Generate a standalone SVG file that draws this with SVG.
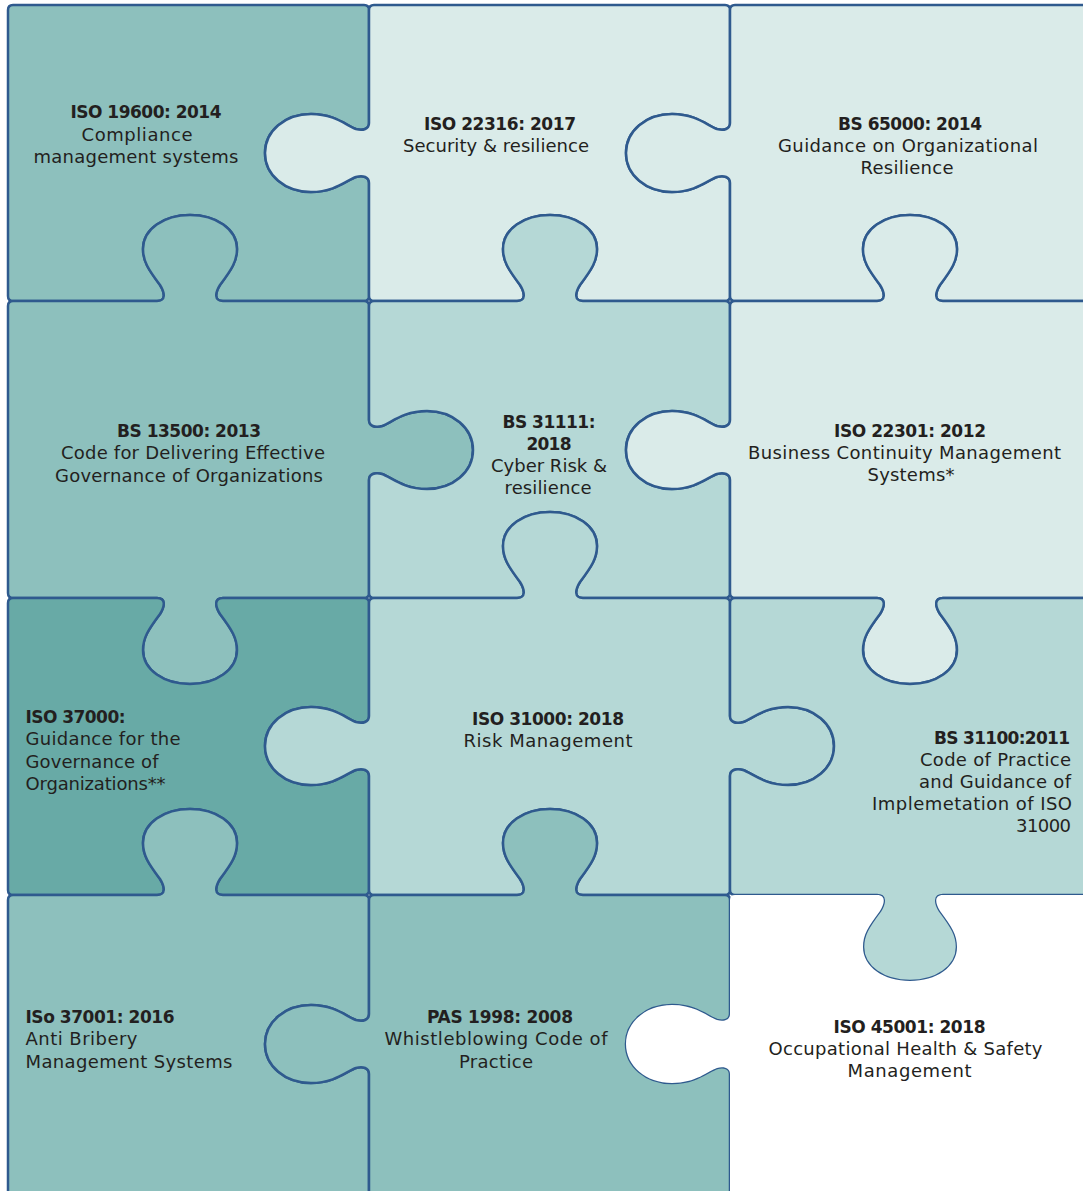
<svg xmlns="http://www.w3.org/2000/svg" width="1083" height="1191" viewBox="0 0 1083 1191">
<style>
.pc{stroke:#2f5a8e;stroke-width:2.5;stroke-linejoin:round}
.med{fill:#8dc0bd}.lt{fill:#daebe9}.ml{fill:#b5d8d6}.dk{fill:#68aaa6}.wh{fill:#ffffff}
text{font-family:"DejaVu Sans","Liberation Sans",sans-serif;font-size:18px;fill:#231f20}
.b{font-weight:bold;font-size:17px}
.c{text-anchor:middle}.r{text-anchor:end}
</style>
<rect width="1083" height="1191" fill="#ffffff"/>
<g id="pieces">
<g id="p11">
<path class="pc med" d="M 13,5 L 364,5 Q 369,5 369,10 L 369,123 C 369,129 363,131 356,129 C 347,126 335,114 311,114 C 285,114 265,131 265,153 C 265,175 285,192 311,192 C 335,192 347,180 356,177 C 363,175 369,177 369,183 L 369,296 Q 369,301 364,301 L 223,301 C 214,301 215,293 220,285 C 232,269 237,261 237,249 C 237,229 216,215 190,215 C 164,215 143,229 143,249 C 143,261 148,269 160,285 C 165,293 166,301 157,301 L 13,301 Q 8,301 8,296 L 8,10 Q 8,5 13,5 Z"/>
<text class="b c" x="146" y="118" textLength="151">ISO 19600: 2014</text>
<text class="c" x="137" y="141" textLength="111">Compliance</text>
<text class="c" x="136" y="163" textLength="205">management systems</text>
</g>
<g id="p12">
<path class="pc lt" d="M 374,5 L 725,5 Q 730,5 730,10 L 730,123 C 730,129 724,131 717,129 C 708,126 696,114 672,114 C 646,114 626,131 626,153 C 626,175 646,192 672,192 C 696,192 708,180 717,177 C 724,175 730,177 730,183 L 730,296 Q 730,301 725,301 L 583,301 C 574,301 575,293 580,285 C 592,269 597,261 597,249 C 597,229 576,215 550,215 C 524,215 503,229 503,249 C 503,261 508,269 520,285 C 525,293 526,301 517,301 L 374,301 Q 369,301 369,296 L 369,183 C 369,177 363,175 356,177 C 347,180 335,192 311,192 C 285,192 265,175 265,153 C 265,131 285,114 311,114 C 335,114 347,126 356,129 C 363,131 369,129 369,123 L 369,10 Q 369,5 374,5 Z"/>
<text class="b c" x="500" y="130" textLength="152">ISO 22316: 2017</text>
<text class="c" x="496" y="152" textLength="186">Security &amp; resilience</text>
</g>
<g id="p13">
<path class="pc lt" d="M 735,5 L 1100,5 L 1100,301 L 943,301 C 934,301 935,293 940,285 C 952,269 957,261 957,249 C 957,229 936,215 910,215 C 884,215 863,229 863,249 C 863,261 868,269 880,285 C 885,293 886,301 877,301 L 735,301 Q 730,301 730,296 L 730,183 C 730,177 724,175 717,177 C 708,180 696,192 672,192 C 646,192 626,175 626,153 C 626,131 646,114 672,114 C 696,114 708,126 717,129 C 724,131 730,129 730,123 L 730,10 Q 730,5 735,5 Z"/>
<text class="b c" x="910" y="130" textLength="144">BS 65000: 2014</text>
<text class="c" x="908" y="152" textLength="260">Guidance on Organizational</text>
<text class="c" x="907" y="174" textLength="93">Resilience</text>
</g>
<g id="p21">
<path class="pc med" d="M 13,301 L 157,301 C 166,301 165,293 160,285 C 148,269 143,261 143,249 C 143,229 164,215 190,215 C 216,215 237,229 237,249 C 237,261 232,269 220,285 C 215,293 214,301 223,301 L 364,301 Q 369,301 369,306 L 369,420 C 369,426 375,428 382,426 C 391,423 403,411 427,411 C 453,411 473,428 473,450 C 473,472 453,489 427,489 C 403,489 391,477 382,474 C 375,472 369,474 369,480 L 369,593 Q 369,598 364,598 L 223,598 C 214,598 215,606 220,614 C 232,630 237,638 237,650 C 237,670 216,684 190,684 C 164,684 143,670 143,650 C 143,638 148,630 160,614 C 165,606 166,598 157,598 L 13,598 Q 8,598 8,593 L 8,306 Q 8,301 13,301 Z"/>
<text class="b c" x="189" y="437" textLength="144">BS 13500: 2013</text>
<text class="c" x="193" y="459" textLength="264">Code for Delivering Effective</text>
<text class="c" x="189" y="482" textLength="268">Governance of Organizations</text>
</g>
<g id="p22">
<path class="pc ml" d="M 374,301 L 517,301 C 526,301 525,293 520,285 C 508,269 503,261 503,249 C 503,229 524,215 550,215 C 576,215 597,229 597,249 C 597,261 592,269 580,285 C 575,293 574,301 583,301 L 725,301 Q 730,301 730,306 L 730,420 C 730,426 724,428 717,426 C 708,423 696,411 672,411 C 646,411 626,428 626,450 C 626,472 646,489 672,489 C 696,489 708,477 717,474 C 724,472 730,474 730,480 L 730,593 Q 730,598 725,598 L 583,598 C 574,598 575,590 580,582 C 592,566 597,558 597,546 C 597,526 576,512 550,512 C 524,512 503,526 503,546 C 503,558 508,566 520,582 C 525,590 526,598 517,598 L 374,598 Q 369,598 369,593 L 369,480 C 369,474 375,472 382,474 C 391,477 403,489 427,489 C 453,489 473,472 473,450 C 473,428 453,411 427,411 C 403,411 391,423 382,426 C 375,428 369,426 369,420 L 369,306 Q 369,301 374,301 Z"/>
<text class="b c" x="549" y="428" textLength="93">BS 31111:</text>
<text class="b c" x="549" y="450" textLength="45">2018</text>
<text class="c" x="549" y="472" textLength="116">Cyber Risk &amp;</text>
<text class="c" x="548" y="494" textLength="87">resilience</text>
</g>
<g id="p23">
<path class="pc lt" d="M 735,301 L 877,301 C 886,301 885,293 880,285 C 868,269 863,261 863,249 C 863,229 884,215 910,215 C 936,215 957,229 957,249 C 957,261 952,269 940,285 C 935,293 934,301 943,301 L 1100,301 L 1100,598 L 943,598 C 934,598 935,606 940,614 C 952,630 957,638 957,650 C 957,670 936,684 910,684 C 884,684 863,670 863,650 C 863,638 868,630 880,614 C 885,606 886,598 877,598 L 735,598 Q 730,598 730,593 L 730,480 C 730,474 724,472 717,474 C 708,477 696,489 672,489 C 646,489 626,472 626,450 C 626,428 646,411 672,411 C 696,411 708,423 717,426 C 724,428 730,426 730,420 L 730,306 Q 730,301 735,301 Z"/>
<text class="b c" x="910" y="437" textLength="152">ISO 22301: 2012</text>
<text class="c" x="904.5" y="459" textLength="313">Business Continuity Management</text>
<text class="c" x="911" y="481" textLength="87">Systems*</text>
</g>
<g id="p31">
<path class="pc dk" d="M 13,598 L 157,598 C 166,598 165,606 160,614 C 148,630 143,638 143,650 C 143,670 164,684 190,684 C 216,684 237,670 237,650 C 237,638 232,630 220,614 C 215,606 214,598 223,598 L 364,598 Q 369,598 369,603 L 369,716 C 369,722 363,724 356,722 C 347,719 335,707 311,707 C 285,707 265,724 265,746 C 265,768 285,785 311,785 C 335,785 347,773 356,770 C 363,768 369,770 369,776 L 369,890 Q 369,895 364,895 L 223,895 C 214,895 215,887 220,879 C 232,863 237,855 237,843 C 237,823 216,809 190,809 C 164,809 143,823 143,843 C 143,855 148,863 160,879 C 165,887 166,895 157,895 L 13,895 Q 8,895 8,890 L 8,603 Q 8,598 13,598 Z"/>
<text class="b" x="25.5" y="723" textLength="100">ISO 37000:</text>
<text x="25.5" y="745" textLength="155">Guidance for the</text>
<text x="25.5" y="768" textLength="133">Governance of</text>
<text x="25.5" y="790" textLength="140">Organizations**</text>
</g>
<g id="p32">
<path class="pc ml" d="M 374,598 L 517,598 C 526,598 525,590 520,582 C 508,566 503,558 503,546 C 503,526 524,512 550,512 C 576,512 597,526 597,546 C 597,558 592,566 580,582 C 575,590 574,598 583,598 L 725,598 Q 730,598 730,603 L 730,716 C 730,722 736,724 743,722 C 752,719 764,707 788,707 C 814,707 834,724 834,746 C 834,768 814,785 788,785 C 764,785 752,773 743,770 C 736,768 730,770 730,776 L 730,890 Q 730,895 725,895 L 583,895 C 574,895 575,887 580,879 C 592,863 597,855 597,843 C 597,823 576,809 550,809 C 524,809 503,823 503,843 C 503,855 508,863 520,879 C 525,887 526,895 517,895 L 374,895 Q 369,895 369,890 L 369,776 C 369,770 363,768 356,770 C 347,773 335,785 311,785 C 285,785 265,768 265,746 C 265,724 285,707 311,707 C 335,707 347,719 356,722 C 363,724 369,722 369,716 L 369,603 Q 369,598 374,598 Z"/>
<text class="b c" x="548" y="725" textLength="152">ISO 31000: 2018</text>
<text class="c" x="548" y="747" textLength="169">Risk Management</text>
</g>
<g id="p33">
<path class="pc ml" d="M 735,598 L 877,598 C 886,598 885,606 880,614 C 868,630 863,638 863,650 C 863,670 884,684 910,684 C 936,684 957,670 957,650 C 957,638 952,630 940,614 C 935,606 934,598 943,598 L 1100,598 L 1100,895 L 943,895 C 934,895 935,903 940,911 C 952,927 957,935 957,947 C 957,967 936,981 910,981 C 884,981 863,967 863,947 C 863,935 868,927 880,911 C 885,903 886,895 877,895 L 735,895 Q 730,895 730,890 L 730,776 C 730,770 736,768 743,770 C 752,773 764,785 788,785 C 814,785 834,768 834,746 C 834,724 814,707 788,707 C 764,707 752,719 743,722 C 736,724 730,722 730,716 L 730,603 Q 730,598 735,598 Z"/>
<text class="b r" x="1070" y="744" textLength="136">BS 31100:2011</text>
<text class="r" x="1071" y="766" textLength="151">Code of Practice</text>
<text class="r" x="1071" y="788" textLength="152">and Guidance of</text>
<text class="r" x="1072" y="810" textLength="200">Implemetation of ISO</text>
<text class="r" x="1071" y="832" textLength="55">31000</text>
</g>
<g id="p41">
<path class="pc med" d="M 13,895 L 157,895 C 166,895 165,887 160,879 C 148,863 143,855 143,843 C 143,823 164,809 190,809 C 216,809 237,823 237,843 C 237,855 232,863 220,879 C 215,887 214,895 223,895 L 364,895 Q 369,895 369,900 L 369,1014 C 369,1020 363,1022 356,1020 C 347,1017 335,1005 311,1005 C 285,1005 265,1022 265,1044 C 265,1066 285,1083 311,1083 C 335,1083 347,1071 356,1068 C 363,1066 369,1068 369,1074 L 369,1200 L 8,1200 L 8,900 Q 8,895 13,895 Z"/>
<text class="b" x="25.5" y="1023" textLength="149">ISo 37001: 2016</text>
<text x="25.5" y="1045" textLength="112">Anti Bribery</text>
<text x="25.5" y="1068" textLength="207">Management Systems</text>
</g>
<g id="p42">
<path class="pc med" d="M 374,895 L 517,895 C 526,895 525,887 520,879 C 508,863 503,855 503,843 C 503,823 524,809 550,809 C 576,809 597,823 597,843 C 597,855 592,863 580,879 C 575,887 574,895 583,895 L 725,895 Q 730,895 730,900 L 730,1014 C 730,1020 724,1022 717,1020 C 708,1017 696,1005 672,1005 C 646,1005 626,1022 626,1044 C 626,1066 646,1083 672,1083 C 696,1083 708,1071 717,1068 C 724,1066 730,1068 730,1074 L 730,1200 L 369,1200 L 369,1074 C 369,1068 363,1066 356,1068 C 347,1071 335,1083 311,1083 C 285,1083 265,1066 265,1044 C 265,1022 285,1005 311,1005 C 335,1005 347,1017 356,1020 C 363,1022 369,1020 369,1014 L 369,900 Q 369,895 374,895 Z"/>
<text class="b c" x="500" y="1023" textLength="146">PAS 1998: 2008</text>
<text class="c" x="496" y="1045" textLength="223">Whistleblowing Code of</text>
<text class="c" x="496" y="1068" textLength="74">Practice</text>
</g>
<g id="p43">
<path class="wh" d="M 735,895 L 877,895 C 886,895 885,903 880,911 C 868,927 863,935 863,947 C 863,967 884,981 910,981 C 936,981 957,967 957,947 C 957,935 952,927 940,911 C 935,903 934,895 943,895 L 1100,895 L 1100,1200 L 730,1200 L 730,1074 C 730,1068 724,1066 717,1068 C 708,1071 696,1083 672,1083 C 646,1083 626,1066 626,1044 C 626,1022 646,1005 672,1005 C 696,1005 708,1017 717,1020 C 724,1022 730,1020 730,1014 L 730,900 Q 730,895 735,895 Z"/>
<text class="b c" x="909.5" y="1033" textLength="152">ISO 45001: 2018</text>
<text class="c" x="905.5" y="1055" textLength="274">Occupational Health &amp; Safety</text>
<text class="c" x="909.5" y="1077" textLength="124">Management</text>
</g>
</g>
<g id="connectors"/>
</svg>
